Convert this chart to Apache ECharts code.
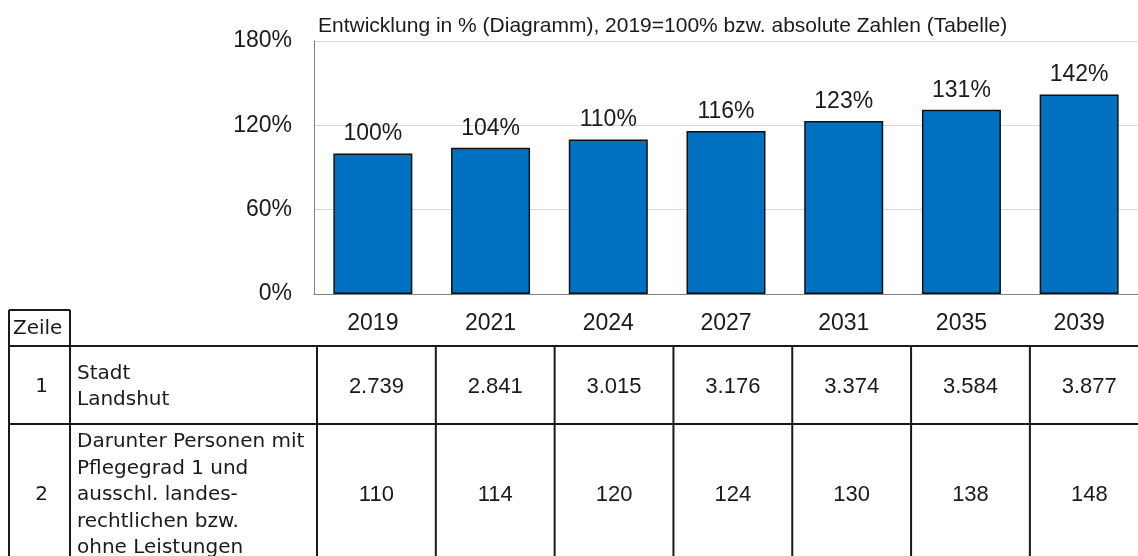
<!DOCTYPE html>
<html>
<head>
<meta charset="utf-8">
<title>Entwicklung Stadt Landshut</title>
<script src="https://cdn.jsdelivr.net/npm/echarts@6/dist/echarts.min.js"></script>
<style>
  html, body { margin: 0; padding: 0; background: #fff; }
  #chart { width: 1138px; height: 556px; }
</style>
</head>
<body>
<div id="chart"></div>
<script>
// chart data
const years = ['2019', '2021', '2024', '2027', '2031', '2035', '2039']
const percentValues = [100, 104, 110, 116, 123, 131, 142]

// table data
const rowNumbers = ['1', '2']
const rowLabels = [
  'Stadt\nLandshut',
  'Darunter Personen mit\nPflegegrad 1 und\nausschl. landes-\nrechtlichen bzw.\nohne Leistungen'
]
const stadtValues = [2739, 2841, 3015, 3176, 3374, 3584, 3877]
const pflegegrad1Values = [110, 114, 120, 124, 130, 138, 148]
const tableRows = [stadtValues, pflegegrad1Values]

const numFont = 'Arial, "Liberation Sans", sans-serif'
const rowFont = 'Verdana, "DejaVu Sans", sans-serif'
const textColor = '#1a1a1a'
const lineColor = '#1a1a1a'

// table layout
const tableLeft = 9
const numberColRight = 70
const headerTop = 310
const rowTops = [346, 424]
const rowHeights = [78, 138]
const tableShift = 3 // table columns start a little right of the first band
const colExtra = 1.1 // and are a touch wider than the bar bands

function formatNumber(v) {
  return String(v).replace(/\B(?=(\d{3})+(?!\d))/g, '.')
}

const chart = echarts.init(document.getElementById('chart'))

chart.setOption({
  animation: false,
  title: {
    text: 'Entwicklung in % (Diagramm), 2019=100% bzw. absolute Zahlen (Tabelle)',
    left: 318,
    top: 16,
    padding: 0,
    textStyle: {
      fontFamily: numFont,
      fontSize: 21,
      fontWeight: 'normal',
      color: textColor
    }
  },
  grid: {
    left: 314,
    top: 41,
    width: 827,
    bottom: 262
  },
  xAxis: {
    type: 'category',
    data: years,
    axisLine: { lineStyle: { color: '#808080', width: 1 } },
    axisTick: { show: false },
    axisLabel: {
      fontFamily: numFont,
      fontSize: 23,
      color: textColor,
      margin: 18
    }
  },
  yAxis: {
    type: 'value',
    min: 0,
    max: 180,
    interval: 60,
    axisLine: { show: true, lineStyle: { color: '#808080', width: 1 } },
    axisTick: { show: false },
    splitLine: { lineStyle: { color: '#d9d9d9', width: 1 } },
    axisLabel: {
      formatter: '{value}%',
      fontFamily: numFont,
      fontSize: 23,
      color: textColor,
      margin: 22
    }
  },
  series: [{
    name: 'Entwicklung',
    type: 'bar',
    data: percentValues,
    barWidth: 79,
    itemStyle: {
      color: '#0070c0',
      borderColor: '#111',
      borderWidth: 1.5
    },
    label: {
      show: true,
      position: 'top',
      distance: 8,
      formatter: '{c}%',
      fontFamily: numFont,
      fontSize: 23,
      color: textColor
    }
  }]
})

// table below the chart, columns taken from the category axis
const centers = years.map((y, i) => chart.convertToPixel({ xAxisIndex: 0 }, i))
const band = centers[1] - centers[0]
const colWidth = band + colExtra
const firstEdge = centers[0] - band / 2 + tableShift
const edges = years.map((y, i) => firstEdge + i * colWidth)
edges.push(firstEdge + years.length * colWidth)
const tableBottom = rowTops[1] + rowHeights[1]
const right = 1200

const graphics = []
function line(x1, y1, x2, y2) {
  graphics.push({
    type: 'line',
    shape: { x1, y1, x2, y2 },
    style: { stroke: lineColor, lineWidth: 2 },
    silent: true
  })
}
function text(x, y, str, font, align, size, lh) {
  graphics.push({
    type: 'text',
    x: x,
    y: y,
    style: {
      text: str,
      fontFamily: font,
      fontSize: size,
      lineHeight: lh,
      fill: textColor,
      align: align,
      verticalAlign: 'middle'
    },
    silent: true
  })
}

// "Zeile" box
line(tableLeft, headerTop, numberColRight, headerTop)
line(tableLeft, headerTop, tableLeft, tableBottom)
line(numberColRight, headerTop, numberColRight, tableBottom)
text(tableLeft + 4, headerTop + 19, 'Zeile', rowFont, 'left', 20, 24)

// row borders
rowTops.forEach(t => line(tableLeft, t, right, t))
edges.forEach(x => line(x, rowTops[0], x, tableBottom))

// row contents
tableRows.forEach((vals, r) => {
  const midY = rowTops[r] + rowHeights[r] / 2 + 2
  text((tableLeft + numberColRight) / 2 + 2, midY, rowNumbers[r], rowFont, 'center', 20, 26.5)
  text(numberColRight + 7, midY, rowLabels[r], rowFont, 'left', 20, 26.5)
  vals.forEach((v, i) => {
    text((edges[i] + edges[i + 1]) / 2, midY, formatNumber(v), numFont, 'center', 22, 26)
  })
})

chart.setOption({ graphic: graphics })
</script>
</body>
</html>
